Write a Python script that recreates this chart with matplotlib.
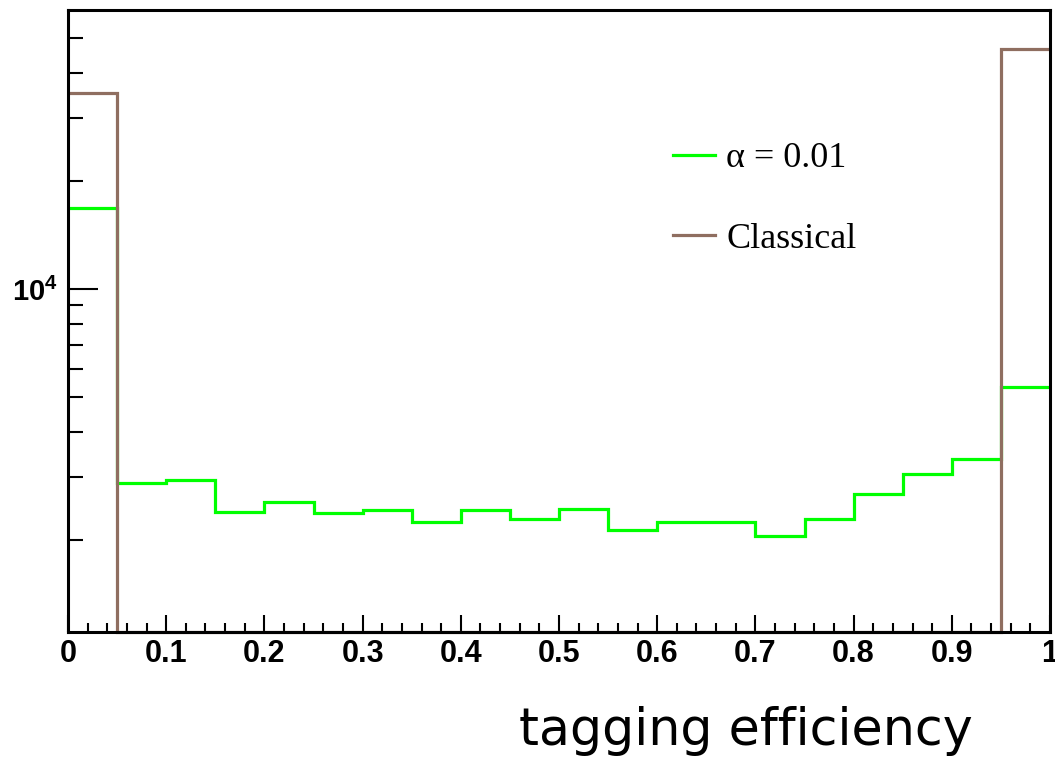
import matplotlib
matplotlib.use("Agg")
import matplotlib.pyplot as plt
import numpy as np
from matplotlib.lines import Line2D
from matplotlib.ticker import MultipleLocator, NullFormatter, FixedLocator, FixedFormatter

# histogram bins (20 bins from 0 to 1)
bin_edges = [0.0, 0.05, 0.1, 0.15, 0.2, 0.25, 0.3, 0.35, 0.4, 0.45, 0.5,
             0.55, 0.6, 0.65, 0.7, 0.75, 0.8, 0.85, 0.9, 0.95, 1.0]

# alpha = 0.01 counts per bin
counts_alpha = [16800, 2880, 2940, 2390, 2550, 2380, 2420, 2240, 2420, 2290,
                2440, 2140, 2240, 2240, 2060, 2290, 2690, 3050, 3360, 5330]

# classical counts per bin
counts_classical = [35200, 0, 0, 0, 0, 0, 0, 0, 0, 0,
                    0, 0, 0, 0, 0, 0, 0, 0, 0, 46500]

labels = ["\u03b1 = 0.01", "Classical"]
x_ticks = [0, 0.1, 0.2, 0.3, 0.4, 0.5, 0.6, 0.7, 0.8, 0.9, 1]
x_ticklabels = ["0", "0.1", "0.2", "0.3", "0.4", "0.5", "0.6", "0.7", "0.8", "0.9", "1"]

green = "#00ff00"
brown = "#8f6e60"
ymin, ymax = 1110, 59800

plt.rcParams["mathtext.fontset"] = "custom"
plt.rcParams["mathtext.bf"] = "Liberation Sans:bold"
plt.rcParams["mathtext.rm"] = "Liberation Sans"

fig = plt.figure(figsize=(10.55, 7.61), dpi=100)
ax = fig.add_axes([68 / 1055, 1 - 632 / 761, 982 / 1055, 622 / 761])

ax.stairs(counts_alpha, bin_edges, baseline=None, color=green, lw=2.3, zorder=3)
# empty bins sit on the bottom of the frame like in ROOT
ax.stairs(np.maximum(counts_classical, ymin), bin_edges, baseline=None,
          color=brown, lw=2.3, zorder=4, clip_on=False)

ax.set_yscale("log")
ax.set_xlim(0, 1)
ax.set_ylim(ymin, ymax)

for s in ax.spines.values():
    s.set_linewidth(2.2)
    s.set_zorder(5)

ax.xaxis.set_major_locator(FixedLocator(x_ticks))
ax.xaxis.set_major_formatter(FixedFormatter(x_ticklabels))
ax.xaxis.set_minor_locator(MultipleLocator(0.02))
ax.set_yticks([1e4])
ax.set_yticklabels([r"$\mathbf{10^{4}}$"])
ax.yaxis.set_minor_formatter(NullFormatter())

ax.tick_params(axis="x", which="major", direction="in", length=12, width=1.5,
               pad=5, top=False, labelsize=22)
ax.tick_params(axis="x", which="minor", direction="in", length=6.5, width=1.5, top=False)
ax.tick_params(axis="y", which="major", direction="in", length=21.6, width=1.5,
               pad=7, right=False, labelsize=21)
ax.tick_params(axis="y", which="minor", direction="in", length=10.8, width=1.5, right=False)
for lab in ax.get_xticklabels():
    lab.set_fontfamily("Liberation Sans")
    lab.set_fontweight("bold")

handles = [Line2D([], [], color=green, lw=2.3), Line2D([], [], color=brown, lw=2.3)]
ax.legend(handles, labels, loc="upper left", bbox_to_anchor=(673 / 1055, 1 - 142 / 761),
          bbox_transform=fig.transFigure, frameon=False, borderpad=0, borderaxespad=0,
          handlelength=1.17, handletextpad=0.3, labelspacing=1.3,
          prop={"family": "Liberation Serif", "size": 26})

fig.text(973 / 1055, 1 - 745 / 761, "tagging efficiency", ha="right", va="baseline",
         fontsize=36.5, family="DejaVu Sans")

fig.savefig("out.png", dpi=100)
